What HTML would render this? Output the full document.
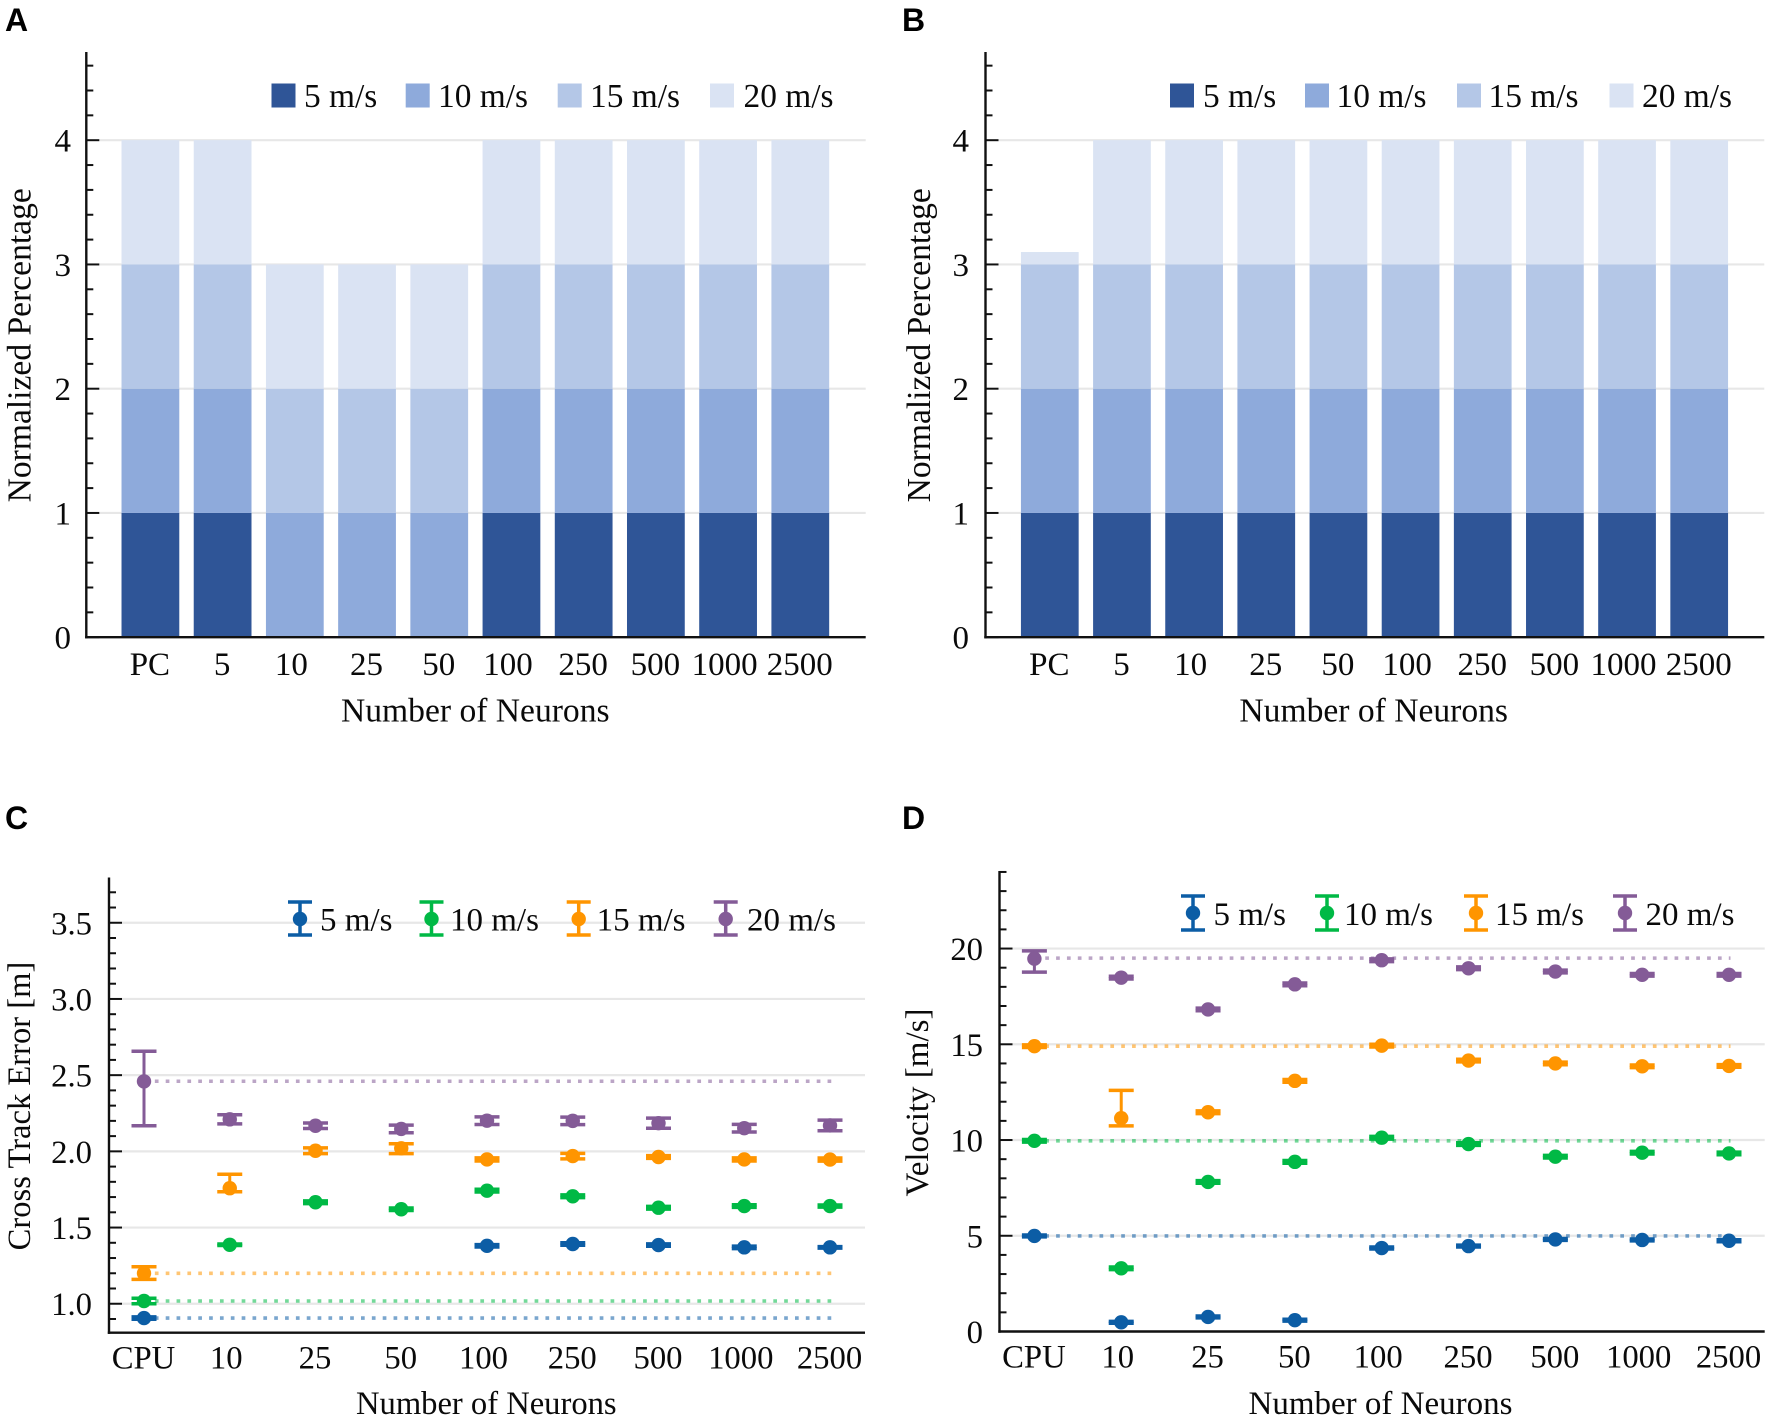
<!DOCTYPE html>
<html lang="en">
<head>
<meta charset="utf-8">
<title>Neuron count comparison</title>
<style>
html,body{margin:0;padding:0;background:#fff;}
svg{display:block;}
text{font-family:"Liberation Serif",serif;fill:#0a0a0a;}
.letter{font-family:"Liberation Sans",sans-serif;font-weight:700;font-size:32px;fill:#000;}
.leg{font-size:33px;}
#legend-a .leg,#legend-b .leg{font-size:33.4px;}
</style>
</head>
<body>
<svg id="figure" xmlns="http://www.w3.org/2000/svg" width="1772" height="1422" viewBox="0 0 1772 1422">
  <rect x="0" y="0" width="1772" height="1422" fill="#ffffff"/>

  <g id="panel-a">
    <text class="letter" x="5" y="31">A</text>
    <text font-size="33.6" x="475.3" y="721.5" text-anchor="middle">Number of Neurons</text>
    <text font-size="33.6" transform="translate(30.5,345.3) rotate(-90)" text-anchor="middle">Normalized Percentage</text>
  </g>
  <g id="panel-b">
    <text class="letter" x="902" y="31">B</text>
    <text font-size="33.6" x="1373.7" y="721.5" text-anchor="middle">Number of Neurons</text>
    <text font-size="33.6" transform="translate(930,345.3) rotate(-90)" text-anchor="middle">Normalized Percentage</text>
  </g>
  <g id="panel-c">
    <text class="letter" x="5" y="829">C</text>
    <text font-size="32.6" x="486.3" y="1414" text-anchor="middle">Number of Neurons</text>
    <text font-size="32.6" transform="translate(30,1106) rotate(-90)" text-anchor="middle">Cross Track Error [m]</text>
  </g>
  <g id="panel-d">
    <text class="letter" x="902" y="829">D</text>
    <text font-size="33" x="1380.5" y="1414" text-anchor="middle">Number of Neurons</text>
    <text font-size="33" transform="translate(928,1102.5) rotate(-90)" text-anchor="middle">Velocity [m/s]</text>
  </g>

  <g id="legend-a">
    <rect x="271.5" y="83.5" width="24" height="24" fill="#2F5597"/>
    <text class="leg" x="304" y="107">5 m/s</text>
    <rect x="405.7" y="83.5" width="24" height="24" fill="#8EAADB"/>
    <text class="leg" x="438" y="107">10 m/s</text>
    <rect x="557.7" y="83.5" width="24" height="24" fill="#B4C7E7"/>
    <text class="leg" x="590" y="107">15 m/s</text>
    <rect x="710" y="83.5" width="24" height="24" fill="#DAE3F3"/>
    <text class="leg" x="743.5" y="107">20 m/s</text>
  </g>
  <g id="legend-b">
    <rect x="1170" y="83.5" width="24" height="24" fill="#2F5597"/>
    <text class="leg" x="1203" y="107">5 m/s</text>
    <rect x="1305" y="83.5" width="24" height="24" fill="#8EAADB"/>
    <text class="leg" x="1336.5" y="107">10 m/s</text>
    <rect x="1457" y="83.5" width="24" height="24" fill="#B4C7E7"/>
    <text class="leg" x="1488.5" y="107">15 m/s</text>
    <rect x="1609.5" y="83.5" width="24" height="24" fill="#DAE3F3"/>
    <text class="leg" x="1642" y="107">20 m/s</text>
  </g>
  <g id="legend-c">
    <g stroke="#0C5DA5" fill="#0C5DA5">
      <path d="M288 902H312M288 935H312M300 902V935" fill="none" stroke-width="3.5"/><circle cx="300" cy="919" r="7.2" stroke="none"/>
    </g>
    <text class="leg" x="320" y="930.5">5 m/s</text>
    <g stroke="#00B945" fill="#00B945">
      <path d="M419.5 902H443.5M419.5 935H443.5M431.5 902V935" fill="none" stroke-width="3.5"/><circle cx="431.5" cy="919" r="7.2" stroke="none"/>
    </g>
    <text class="leg" x="450" y="930.5">10 m/s</text>
    <g stroke="#FF9500" fill="#FF9500">
      <path d="M566.7 902H590.7M566.7 935H590.7M578.7 902V935" fill="none" stroke-width="3.5"/><circle cx="578.7" cy="919" r="7.2" stroke="none"/>
    </g>
    <text class="leg" x="596.6" y="930.5">15 m/s</text>
    <g stroke="#845B97" fill="#845B97">
      <path d="M713.7 902H737.7M713.7 935H737.7M725.7 902V935" fill="none" stroke-width="3.5"/><circle cx="725.7" cy="919" r="7.2" stroke="none"/>
    </g>
    <text class="leg" x="747" y="930.5">20 m/s</text>
  </g>
  <g id="legend-d">
    <g stroke="#0C5DA5" fill="#0C5DA5">
      <path d="M1181 896H1205M1181 930H1205M1193 896V930" fill="none" stroke-width="3.5"/><circle cx="1193" cy="913" r="7.2" stroke="none"/>
    </g>
    <text class="leg" x="1213.5" y="925">5 m/s</text>
    <g stroke="#00B945" fill="#00B945">
      <path d="M1315 896H1339M1315 930H1339M1327 896V930" fill="none" stroke-width="3.5"/><circle cx="1327" cy="913" r="7.2" stroke="none"/>
    </g>
    <text class="leg" x="1344" y="925">10 m/s</text>
    <g stroke="#FF9500" fill="#FF9500">
      <path d="M1464 896H1488M1464 930H1488M1476 896V930" fill="none" stroke-width="3.5"/><circle cx="1476" cy="913" r="7.2" stroke="none"/>
    </g>
    <text class="leg" x="1495" y="925">15 m/s</text>
    <g stroke="#845B97" fill="#845B97">
      <path d="M1613 896H1637M1613 930H1637M1625 896V930" fill="none" stroke-width="3.5"/><circle cx="1625" cy="913" r="7.2" stroke="none"/>
    </g>
    <text class="leg" x="1645.5" y="925">20 m/s</text>
  </g>
</svg>

<script>
// ---- Panels A and B: stacked bars ----
const stackCategories = ['PC','5','10','25','50','100','250','500','1000','2500'];
const stackTickValues = [0,1,2,3,4];
const stackTickLabels = ['0','1','2','3','4'];

const panelA5  = [1,1,0,0,0,1,1,1,1,1];
const panelA10 = [1,1,1,1,1,1,1,1,1,1];
const panelA15 = [1,1,1,1,1,1,1,1,1,1];
const panelA20 = [1,1,1,1,1,1,1,1,1,1];

const panelB5  = [1,1,1,1,1,1,1,1,1,1];
const panelB10 = [1,1,1,1,1,1,1,1,1,1];
const panelB15 = [1,1,1,1,1,1,1,1,1,1];
const panelB20 = [0.1,1,1,1,1,1,1,1,1,1];

// ---- Panels C and D: shared categories (null = point not shown) ----
const pointCategories = ['CPU','10','25','50','100','250','500','1000','2500'];

// ---- Panel C: cross track error ----
const cteTickValues = [1.0,1.5,2.0,2.5,3.0,3.5];
const cteTickLabels = ['1.0','1.5','2.0','2.5','3.0','3.5'];
const cteRef5 = 0.906;
const cteRef10 = 1.018;
const cteRef15 = 1.20;
const cteRef20 = 2.46;

const cteMean5 = [0.906,null,null,null,1.38,1.392,1.385,1.37,1.37];
const cteLow5  = [0.898,null,null,null,1.372,1.384,1.377,1.362,1.365];
const cteHigh5 = [0.914,null,null,null,1.388,1.4,1.393,1.378,1.375];

const cteMean10 = [1.018,1.387,1.666,1.62,1.742,1.705,1.63,1.641,1.641];
const cteLow10  = [1.0,1.382,1.657,1.612,1.733,1.696,1.621,1.632,1.634];
const cteHigh10 = [1.036,1.392,1.675,1.628,1.751,1.714,1.639,1.65,1.648];

const cteMean15 = [1.2,1.758,2.004,2.02,1.947,1.969,1.963,1.947,1.946];
const cteLow15  = [1.16,1.735,1.985,1.985,1.937,1.951,1.954,1.937,1.936];
const cteHigh15 = [1.243,1.85,2.023,2.05,1.957,1.987,1.972,1.957,1.956];

const cteMean20 = [2.459,2.21,2.168,2.147,2.201,2.2,2.185,2.152,2.17];
const cteLow20  = [2.168,2.18,2.15,2.122,2.176,2.175,2.152,2.127,2.135];
const cteHigh20 = [2.657,2.24,2.186,2.172,2.226,2.225,2.218,2.177,2.205];

// ---- Panel D: velocity ----
const velTickValues = [0,5,10,15,20];
const velTickLabels = ['0','5','10','15','20'];
const velRef5 = 4.99;
const velRef10 = 9.96;
const velRef15 = 14.9;
const velRef20 = 19.5;

const velMean5 = [4.99,0.48,0.76,0.59,4.36,4.46,4.81,4.78,4.74];
const velLow5  = [4.94,0.43,0.71,0.54,4.31,4.41,4.76,4.73,4.69];
const velHigh5 = [5.04,0.53,0.81,0.64,4.41,4.51,4.86,4.83,4.79];

const velMean10 = [9.96,3.3,7.81,8.86,10.12,9.79,9.13,9.34,9.3];
const velLow10  = [9.89,3.23,7.74,8.79,10.05,9.72,9.06,9.27,9.23];
const velHigh10 = [10.03,3.37,7.88,8.93,10.19,9.86,9.2,9.41,9.37];

const velMean15 = [14.9,11.14,11.45,13.09,14.93,14.15,14.0,13.85,13.87];
const velLow15  = [14.83,10.74,11.38,13.02,14.86,14.08,13.93,13.78,13.8];
const velHigh15 = [14.97,12.59,11.52,13.16,15.0,14.22,14.07,13.92,13.94];

const velMean20 = [19.47,18.48,16.82,18.13,19.39,18.97,18.8,18.63,18.63];
const velLow20  = [18.77,18.41,16.75,18.06,19.32,18.9,18.73,18.56,18.56];
const velHigh20 = [19.88,18.55,16.89,18.2,19.46,19.04,18.87,18.7,18.7];

// ---- Drawing ----
const SVGNS = 'http://www.w3.org/2000/svg';
const BLUE = '#0C5DA5', GREEN = '#00B945', ORANGE = '#FF9500', PURPLE = '#845B97';
const BAR_COLORS = ['#2F5597','#8EAADB','#B4C7E7','#DAE3F3'];

function make(tag, attrs, parent) {
  const node = document.createElementNS(SVGNS, tag);
  for (const key in attrs) node.setAttribute(key, attrs[key]);
  parent.appendChild(node);
  return node;
}

function linearScale(d0, d1, r0, r1) {
  return function (v) { return r0 + (v - d0) * (r1 - r0) / (d1 - d0); };
}

function drawFrame(g, layout, tickValues, tickLabels, categories, xOf, yOf) {
  tickValues.forEach(function (value, i) {
    const y = yOf(value);
    const grid = make('line', {x1: layout.left + 13, x2: layout.right, y1: y, y2: y, stroke: '#e7e7e7', 'stroke-width': 2.2}, g);
    
    
  });
  return function drawAxes() {
    const minorCount = Math.round((layout.yMaxTick - layout.yMinTick) / layout.minorStep);
    for (let i = 0; i <= minorCount; i++) {
      const value = layout.yMinTick + i * layout.minorStep;
      const y = yOf(value);
      const isMajor = tickValues.some(function (t) { return Math.abs(t - value) < 1e-6; });
      const tick = make('line', {x1: layout.left, x2: layout.left + (isMajor ? 13 : 7), y1: y, y2: y, stroke: '#111', 'stroke-width': 2}, g);
      
      
    }
    const yAxis = make('line', {x1: layout.left, x2: layout.left, y1: layout.top, y2: layout.bottom + 1.2, stroke: '#111', 'stroke-width': 2.4}, g);
    
    
    const xAxis = make('line', {x1: layout.left - 1.2, x2: layout.right, y1: layout.bottom, y2: layout.bottom, stroke: '#111', 'stroke-width': 2.4}, g);
    
    
    tickValues.forEach(function (value, i) {
      const label = make('text', {x: layout.labelRight, y: yOf(value) + 11.5, 'text-anchor': 'end', 'font-size': layout.tickSize}, g);
      label.textContent = tickLabels[i];
      
      
    });
    categories.forEach(function (name, i) {
      const shift = name.charAt(0) === '1' ? -3.5 : -0.5;
      const label = make('text', {x: xOf(i) + shift, y: layout.xLabelBaseline, 'text-anchor': 'middle', 'font-size': layout.tickSize}, g);
      label.textContent = name;
      
      
    });
  };
}

function drawStacked(g, layout, seriesList) {
  const xOf = linearScale(0, 9, layout.xFirst, layout.xLast);
  const yOf = linearScale(0, 4, layout.bottom, layout.bottom - 4 * layout.unit);
  const finish = drawFrame(g, layout, stackTickValues, stackTickLabels, stackCategories, xOf, yOf);
  const barWidth = (layout.xLast - layout.xFirst) / 9 * 0.8;
  stackCategories.forEach(function (name, i) {
    let base = 0;
    seriesList.forEach(function (series, s) {
      const value = series[i];
      if (value > 0) {
        const bar = make('rect', {x: xOf(i) - barWidth / 2, y: yOf(base + value), width: barWidth, height: yOf(base) - yOf(base + value), fill: BAR_COLORS[s]}, g);
        
        
        base += value;
      }
    });
  });
  finish();
}

function drawPoints(g, layout, tickValues, tickLabels, seriesList) {
  const xOf = linearScale(0, 8, layout.xFirst, layout.xLast);
  const yOf = linearScale(layout.yMin, layout.yMax, layout.bottom, layout.top);
  const finish = drawFrame(g, layout, tickValues, tickLabels, pointCategories, xOf, yOf);
  seriesList.forEach(function (series) {
    const ref = make('line', {x1: xOf(0), x2: xOf(8) + 1.5, y1: yOf(series.ref), y2: yOf(series.ref), stroke: series.color, 'stroke-width': 3.6, 'stroke-dasharray': '3.7 7.15', 'stroke-opacity': 0.55}, g);
    
    
  });
  seriesList.forEach(function (series) {
    series.mean.forEach(function (value, i) {
      if (value === null) return;
      const x = xOf(i);
      const yLow = yOf(series.low[i]);
      const yHigh = yOf(series.high[i]);
      const stem = make('line', {x1: x, x2: x, y1: yLow, y2: yHigh, stroke: series.color, 'stroke-width': 3}, g);
      
      
      const capLow = make('line', {x1: x - 12.5, x2: x + 12.5, y1: yLow, y2: yLow, stroke: series.color, 'stroke-width': 3.5}, g);
      
      
      const capHigh = make('line', {x1: x - 12.5, x2: x + 12.5, y1: yHigh, y2: yHigh, stroke: series.color, 'stroke-width': 3.5}, g);
      
      
      const dot = make('circle', {cx: x, cy: yOf(value), r: 7.2, fill: series.color}, g);
      
      
    });
  });
  finish();
}

drawStacked(document.getElementById('panel-a'),
  {left: 86.3, right: 865.7, top: 52, bottom: 637.2, unit: 124.25, xFirst: 150.4, xLast: 800.3, yMinTick: 0, yMaxTick: 4.6, minorStep: 0.2, labelRight: 71, xLabelBaseline: 675, tickSize: 33},
  [panelA5, panelA10, panelA15, panelA20]);

drawStacked(document.getElementById('panel-b'),
  {left: 985.5, right: 1764.3, top: 52, bottom: 637.2, unit: 124.25, xFirst: 1049.8, xLast: 1699.2, yMinTick: 0, yMaxTick: 4.6, minorStep: 0.2, labelRight: 969, xLabelBaseline: 675, tickSize: 33},
  [panelB5, panelB10, panelB15, panelB20]);

drawPoints(document.getElementById('panel-c'),
  {left: 109, right: 865, top: 877.5, bottom: 1332.7, yMin: 0.81, yMax: 3.797, xFirst: 144, xLast: 830, yMinTick: 0.9, yMaxTick: 3.7, minorStep: 0.1, labelRight: 92, xLabelBaseline: 1368.3, tickSize: 32.7},
  cteTickValues, cteTickLabels,
  [
    {color: BLUE, ref: cteRef5, mean: cteMean5, low: cteLow5, high: cteHigh5},
    {color: GREEN, ref: cteRef10, mean: cteMean10, low: cteLow10, high: cteHigh10},
    {color: ORANGE, ref: cteRef15, mean: cteMean15, low: cteLow15, high: cteHigh15},
    {color: PURPLE, ref: cteRef20, mean: cteMean20, low: cteLow20, high: cteHigh20}
  ]);

drawPoints(document.getElementById('panel-d'),
  {left: 999.5, right: 1764.7, top: 871, bottom: 1331.5, yMin: 0, yMax: 24.05, xFirst: 1034.4, xLast: 1729, yMinTick: 0, yMaxTick: 24, minorStep: 1, labelRight: 983, xLabelBaseline: 1367.7, tickSize: 32.7},
  velTickValues, velTickLabels,
  [
    {color: BLUE, ref: velRef5, mean: velMean5, low: velLow5, high: velHigh5},
    {color: GREEN, ref: velRef10, mean: velMean10, low: velLow10, high: velHigh10},
    {color: ORANGE, ref: velRef15, mean: velMean15, low: velLow15, high: velHigh15},
    {color: PURPLE, ref: velRef20, mean: velMean20, low: velLow20, high: velHigh20}
  ]);
</script>
</body>
</html>
